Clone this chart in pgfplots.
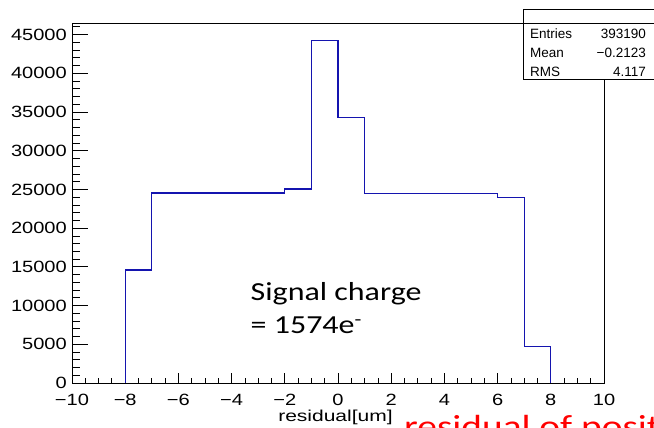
\documentclass[border=0pt]{standalone}
\usepackage{fontspec}
\setmainfont{Liberation Sans}
\newfontfamily\widefont{Liberation Sans}[FakeStretch=1.23]
\newfontfamily\labelfont{Liberation Sans}[FakeStretch=1.33]
\newfontfamily\carlitofont{Carlito}[FakeStretch=1.23]
\usepackage{pgfplots}
\pgfplotsset{compat=1.18}
\definecolor{histblue}{RGB}{20,20,175}
\pgfplotsset{
  rootframe/.style={
    at={(0,0)}, anchor=south west,
    scale only axis, width=532bp, height=360bp,
    xmin=-10, xmax=10, ymin=0, ymax=46500,
    scaled ticks=false,
    minor x tick num=3, minor y tick num=4,
    tick align=inside,
    tick style={black, line width=0.8bp},
    axis line style={black, line width=0.9bp},
    ticklabel style={font=\widefont\fontsize{16.3bp}{19bp}\selectfont, inner sep=0pt},
    clip=false,
  }
}
\begin{document}
\begin{tikzpicture}
\useasboundingbox (-72bp,-45bp) rectangle (582bp,383bp);
\clip (-72bp,-45bp) rectangle (582bp,383bp);
% frame, x ticks (shorter), their labels and the x label
\begin{axis}[rootframe,
  major tick length=10bp, minor tick length=5bp,
  xtick={-10,-8,...,10},
  xticklabels={−10,−8,−6,−4,−2,0,2,4,6,8,10},
  tick pos=bottom,
  ytick=\empty,
  xticklabel style={anchor=north, yshift=-11bp},
  xlabel={residual[um]},
  xlabel style={font=\labelfont\fontsize{15.8bp}{19bp}\selectfont, at={(axis description cs:0.5,0)}, anchor=base, xshift=-2.5bp, yshift=-39bp, inner sep=0pt},
]
\end{axis}
% y ticks, their labels and the histogram
\begin{axis}[rootframe,
  major tick length=16bp, minor tick length=8bp,
  xtick=\empty,
  ytick={0,5000,10000,15000,20000,25000,30000,35000,40000,45000},
  yticklabels={0,5000,10000,15000,20000,25000,30000,35000,40000,45000},
  tick pos=left,
  yticklabel style={anchor=east, xshift=-5bp},
]
\addplot[const plot mark left, histblue, line width=1.2bp] coordinates {
  (-8,0) (-8,14600) (-7,24550) (-6,24550) (-5,24550) (-4,24550) (-3,24550)
  (-2,25050) (-1,44230) (0,34280) (1,24500) (2,24500) (3,24500) (4,24500)
  (5,24500) (6,23950) (7,4700) (8,0)
};
% y-axis tick marks (ROOT style, inside): 16bp = 0.6015 x-units, 8bp = 0.3008 x-units
\pgfplotsinvokeforeach{5000,10000,15000,20000,25000,30000,35000,40000,45000}{
  \draw[black, line width=0.8bp] (axis cs:-10,#1) -- (axis cs:-9.3985,#1);
}
\pgfplotsinvokeforeach{1000,2000,3000,4000,6000,7000,8000,9000,11000,12000,13000,14000,16000,17000,18000,19000,21000,22000,23000,24000,26000,27000,28000,29000,31000,32000,33000,34000,36000,37000,38000,39000,41000,42000,43000,44000,46000}{
  \draw[black, line width=0.8bp] (axis cs:-10,#1) -- (axis cs:-9.6992,#1);
}
\end{axis}
% stats box
\draw[black, line width=0.8bp, fill=white] (451bp,304bp) rectangle (590bp,374bp);
\draw[black, line width=0.8bp] (451bp,360bp) -- (590bp,360bp);
\begin{scope}[font=\fontsize{13.5bp}{16bp}\selectfont]
\node[anchor=base west, inner sep=0pt] at (458bp,344bp) {Entries};
\node[anchor=base east, inner sep=0pt] at (574bp,344bp) {393190};
\node[anchor=base west, inner sep=0pt] at (458bp,325.5bp) {Mean};
\node[anchor=base east, inner sep=0pt] at (574bp,325.5bp) {−0.2123};
\node[anchor=base west, inner sep=0pt] at (458bp,306.5bp) {RMS};
\node[anchor=base east, inner sep=0pt] at (574bp,306.5bp) {4.117};
\end{scope}
% annotations
\node[anchor=base west, inner sep=0pt, font=\carlitofont\fontsize{26bp}{30bp}\selectfont] at (178.5bp,82.5bp) {Signal charge};
\node[anchor=base west, inner sep=0pt, font=\carlitofont\fontsize{26bp}{30bp}\selectfont] at (178.5bp,49bp) {= 1574e\textsuperscript{-}};
\node[anchor=base west, inner sep=0pt, text=red, font=\carlitofont\fontsize{32bp}{36bp}\selectfont] at (332bp,-54.5bp) {residual of position};
\end{tikzpicture}
\end{document}
